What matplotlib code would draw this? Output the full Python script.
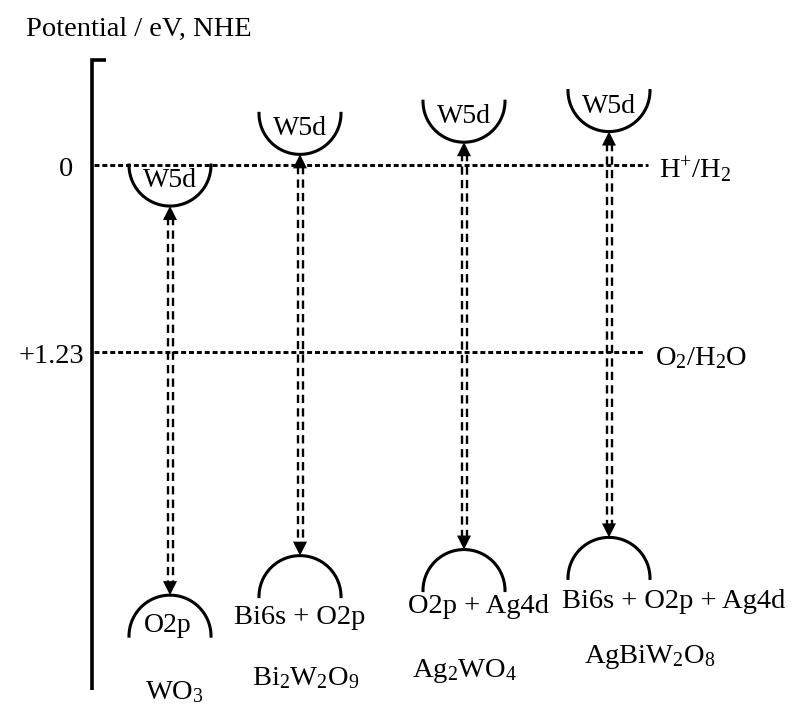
import matplotlib
matplotlib.use("Agg")
import matplotlib.pyplot as plt
import numpy as np

plt.rcParams['font.family'] = ['Liberation Serif', 'DejaVu Serif']
plt.rcParams['mathtext.fontset'] = 'custom'
plt.rcParams['mathtext.rm'] = 'Liberation Serif'
plt.rcParams['mathtext.default'] = 'regular'

# band edges, eV vs NHE
materials = ['WO$_3$', 'Bi$_2$W$_2$O$_9$', 'Ag$_2$WO$_4$', 'AgBiW$_2$O$_8$']
cb_edge = [0.27, -0.07, -0.15, -0.22]
vb_edge = [2.83, 2.57, 2.53, 2.45]
cb_labels = ['W5d', 'W5d', 'W5d', 'W5d']
vb_labels = ['O2p', 'Bi6s + O2p', 'O2p + Ag4d', 'Bi6s + O2p + Ag4d']

# redox levels
levels = [0.0, 1.23]
level_ticks = ['0', '+1.23']
level_names = ['H$^{+}$/H$_2$', 'O$_2$/H$_2$O']

# layout (pixels)
S = 152.0      # px per eV
Y0 = 165.0     # pixel row of 0 eV
col_x = [170, 300, 464, 609]
vb_label_x = [168, 300, 478, 674]
vb_label_dy = [37, 68, 63, 71]
formula_x = [174, 306, 465, 650]
formula_y = [699, 685, 677, 663]
tick_right = [73, 84]
level_end = [648, 644]
fs = 20.5


def e(p):
    # pixel row -> eV
    return (p - Y0) / S


fig = plt.figure(figsize=(7.93, 7.09), dpi=100)
ax = fig.add_axes([0, 0, 1, 1])
ax.set_xlim(0, 793)
ax.set_ylim(e(709), e(0))
ax.axis('off')

# axis line with small top tick
ax.plot([106, 92, 92], [e(60), e(60), e(690)], color='k', lw=2.6,
        solid_joinstyle='miter', solid_capstyle='butt')
ax.text(26, e(36), 'Potential / eV, NHE', fontsize=fs, va='baseline', ha='left')

# redox levels
for lv, tick, tx, name, xe in zip(levels, level_ticks, tick_right, level_names, level_end):
    ax.plot([94, xe], [lv, lv], color='k', lw=2.1, dashes=(1.7, 1.0))
    ax.text(tx, lv + 11 / S, tick, fontsize=fs, va='baseline', ha='right')
    ax.text(xe + 11, lv + 13 / S, name, fontsize=fs, va='baseline', ha='left')

rx = 41.0
ry = 41.0 / S
t = np.linspace(0, np.pi, 100)
head_l = 14 / S
head_w = 7

for i in range(len(materials)):
    cx = col_x[i]
    cb = cb_edge[i]
    vb = vb_edge[i]

    # conduction band bowl
    ax.plot(cx + rx * np.cos(t), (cb - ry) + ry * np.sin(t), color='k', lw=2.2)
    ax.text(cx, cb - 19 / S, cb_labels[i], fontsize=20, ha='center', va='baseline')

    # valence band dome
    ax.plot(cx + rx * np.cos(t), (vb + ry) - ry * np.sin(t), color='k', lw=2.2)
    ax.text(vb_label_x[i], vb + vb_label_dy[i] / S, vb_labels[i],
            fontsize=20 if i == 0 else fs, ha='center', va='baseline')

    # double dashed arrow
    for dx in (-2.5, 2.5):
        ax.plot([cx + dx, cx + dx], [cb + head_l * 0.8, vb - head_l * 0.8],
                color='k', lw=1.7, dashes=(3.5, 2.2))
    ax.fill([cx - head_w, cx + head_w, cx], [cb + head_l, cb + head_l, cb],
            color='k', lw=0)
    ax.fill([cx - head_w, cx + head_w, cx], [vb - head_l, vb - head_l, vb],
            color='k', lw=0)

    ax.text(formula_x[i], e(formula_y[i]), materials[i], fontsize=fs,
            ha='center', va='baseline')

fig.savefig('out.png', dpi=100)
